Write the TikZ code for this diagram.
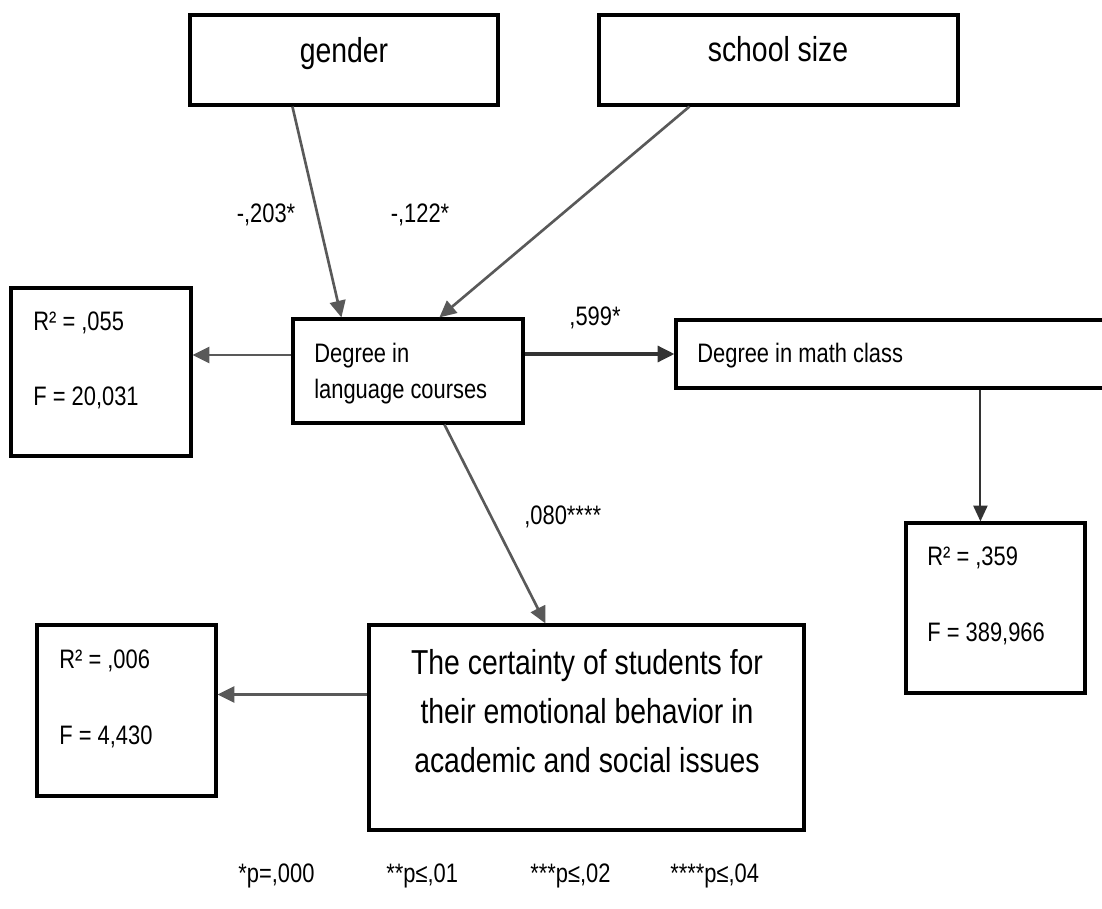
\documentclass[tikz,border=0pt]{standalone}
\usepackage{fontspec}
\setmainfont{Liberation Sans}[FakeStretch=0.82]
\usetikzlibrary{arrows.meta,calc}
\definecolor{arrgray}{HTML}{595959}
\definecolor{arrdark}{HTML}{333333}
\begin{document}
\begin{tikzpicture}[x=0.02cm,y=-0.02cm,
  box/.style={draw=black, line width=1.8pt, fill=white, inner sep=0pt},
  sz/.style 2 args={minimum width=#1*0.02cm, minimum height=#2*0.02cm},
  small/.style={font=\fontsize{15.2pt}{18pt}\selectfont, inner sep=0pt},
  big/.style={font=\fontsize{19.7pt}{24pt}\selectfont, inner sep=0pt},
  arr/.style={draw=arrgray, line width=1.5pt, -{Triangle[length=9.5pt,width=9pt]}},
  arrbold/.style={draw=arrdark, line width=1.9pt, -{Triangle[length=9.5pt,width=9pt]}},
  arrthin/.style={draw=arrdark, line width=1.2pt, -{Triangle[length=9pt,width=8pt]}}]
\useasboundingbox (0,0) rectangle (1102,909);

% boxes
\node[box, sz={308}{90}]  (gender) at (344,60) {};
\node[box, sz={359}{90}]  (school) at (778.5,60) {};
\node[box, sz={180}{168}] (lbox1)  at (101,372) {};
\node[box, sz={230}{104}] (lang)   at (408,371) {};
\node[box, sz={434}{68}]  (math)   at (893,354) {};
\node[box, sz={179}{170}] (rbox)   at (995.5,608) {};
\node[box, sz={179}{171}] (lbox2)  at (126.5,710.5) {};
\node[box, sz={435}{205}] (cert)   at (586.5,727.5) {};

% box texts
\node[big, anchor=base] (tgender) at (344,63) {gender};
\node[big, anchor=base] (tschool) at (778,62) {school size};
\node[small, anchor=base west] (tl1a) at (33,330) {R² = ,055};
\node[small, anchor=base west] (tl1b) at (33,405) {F = 20,031};
\node[small, anchor=base west] (tlanga) at (314,362) {Degree in};
\node[small, anchor=base west] (tlangb) at (314,398) {language courses};
\node[small, anchor=base west] (tmath) at (697,362) {Degree in math class};
\node[small, anchor=base west] (trba) at (927,565) {R² = ,359};
\node[small, anchor=base west] (trbb) at (927,641) {F = 389,966};
\node[small, anchor=base west] (tl2a) at (59,668) {R² = ,006};
\node[small, anchor=base west] (tl2b) at (59,744) {F = 4,430};
\node[big, anchor=base] (tcerta) at (587,674) {The certainty of students for};
\node[big, anchor=base] (tcertb) at (587,723) {their emotional behavior in};
\node[big, anchor=base] (tcertc) at (587,772) {academic and social issues};

% paths
\draw[arr] ($(gender.south west)+(104,0)$) -- ($(lang.north west)+(50,0)$);
\draw[arr] ($(school.south west)+(92,0)$) -- ($(lang.north west)+(148,0)$);
\draw[arr] ($(lang.west)+(0,-16)$) -- ($(lbox1.east)+(0,-17)$);
\draw[arrbold] ($(lang.east)+(0,-17)$) -- (math.west);
\draw[arr] ($(lang.south west)+(153,0)$) -- ($(cert.north west)+(178,0)$);
\draw[arrthin] ($(math.south west)+(306,0)$) -- ($(rbox.north west)+(76,0)$);
\draw[arr] ($(cert.west)+(0,-33)$) -- ($(lbox2.east)+(0,-16)$);

% coefficients
\node[small] (c203) at (266,215) {-,203*};
\node[small] (c122) at (420,215) {-,122*};
\node[small] (c599) at (595,318) {,599*};
\node[small, anchor=base west] (c080) at (524,524) {,080****};

% significance legend
\node[small, anchor=base west] (s1) at (238,882) {*p=,000};
\node[small, anchor=base west] (s2) at (386,882) {**p≤,01};
\node[small, anchor=base west] (s3) at (530,882) {***p≤,02};
\node[small, anchor=base west] (s4) at (670,882) {****p≤,04};
\end{tikzpicture}
\end{document}
